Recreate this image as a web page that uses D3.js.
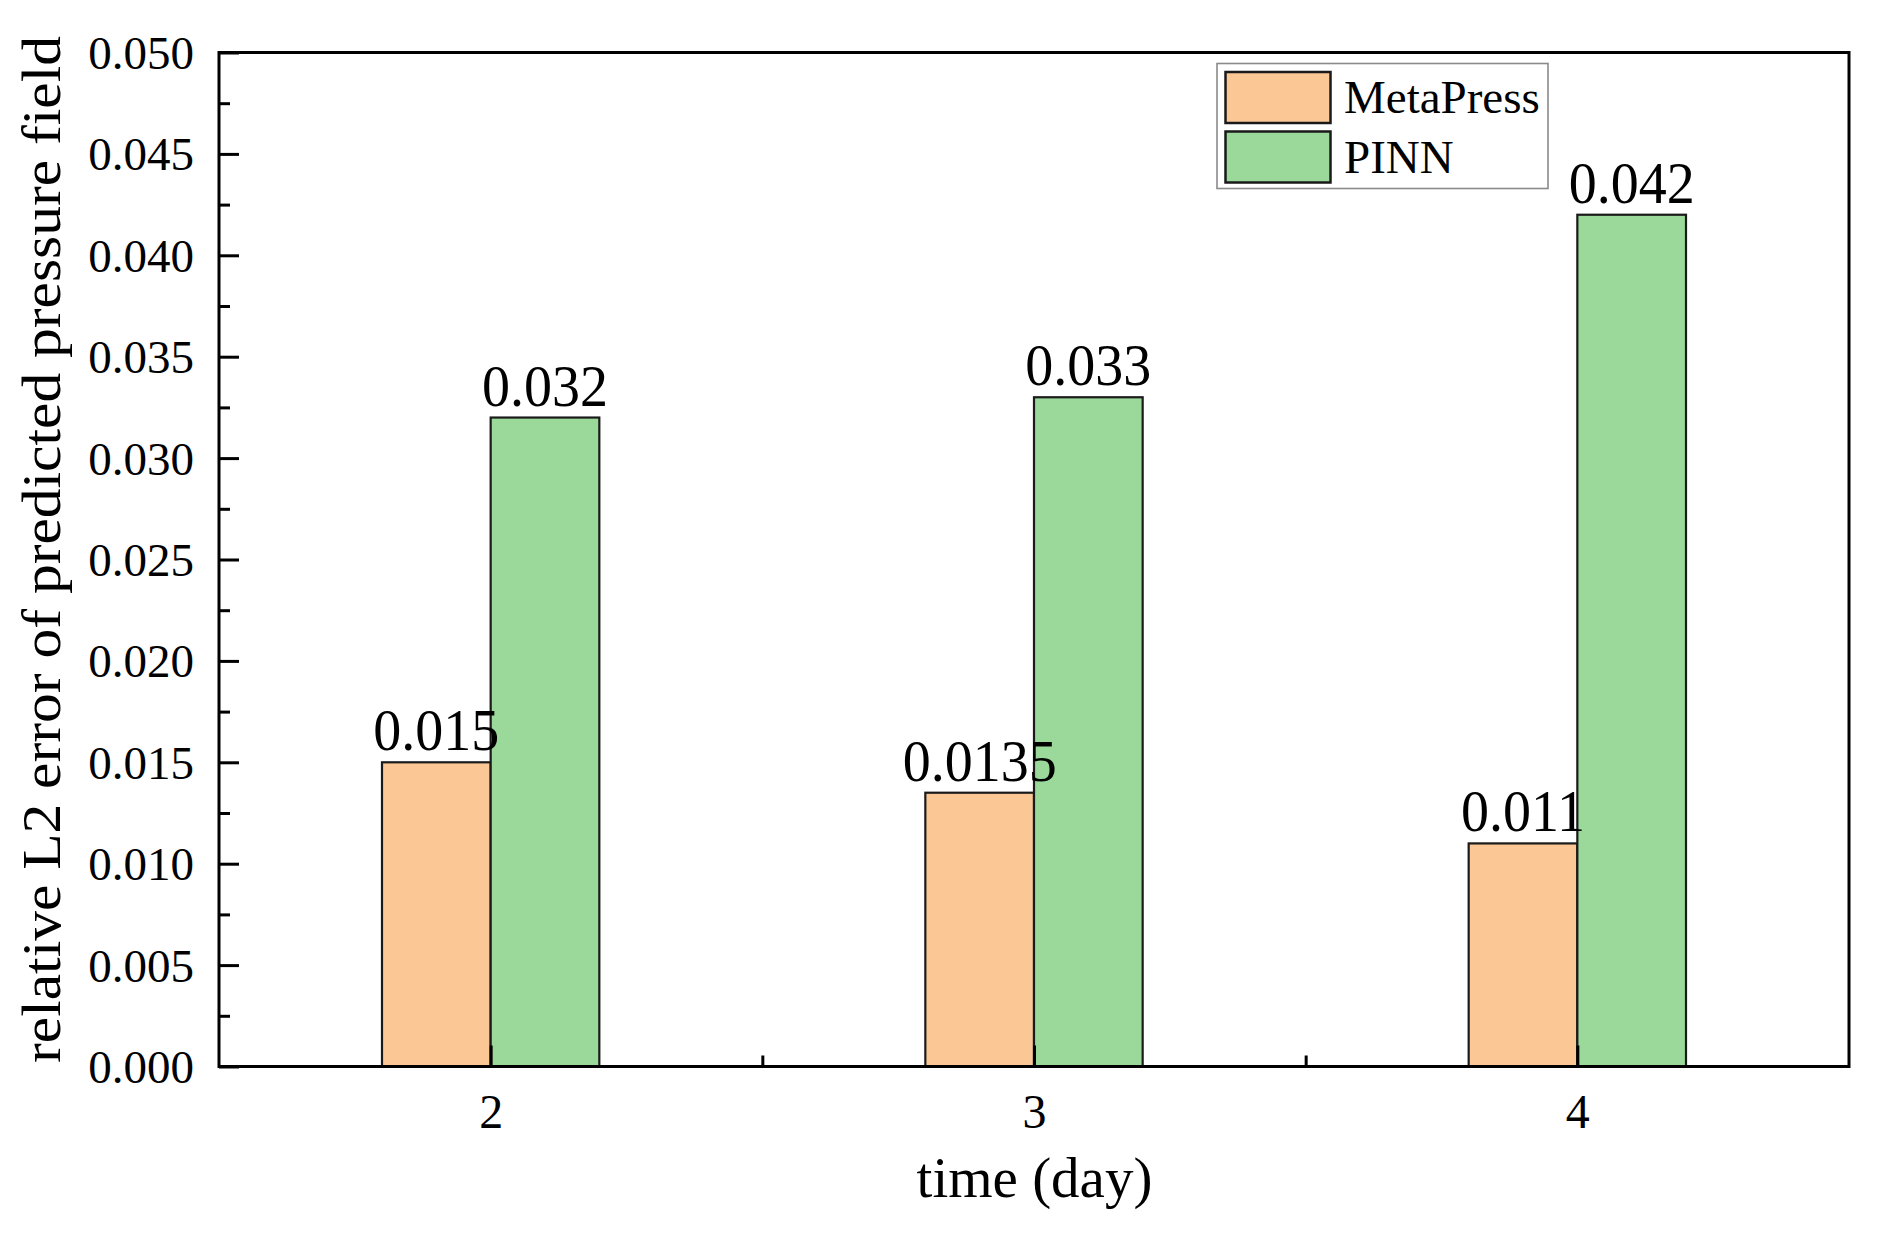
<!DOCTYPE html>
<html>
<head>
<meta charset="utf-8">
<script src="https://cdn.jsdelivr.net/npm/d3@7"></script>
<style>
  html, body { margin: 0; padding: 0; background: #fff; }
  svg { display: block; }
  text { font-family: "Liberation Serif", "Times New Roman", serif; fill: #000; }
</style>
</head>
<body>
<svg id="chart" width="1877" height="1233"></svg>
<script>
// ---- data ----
const categories = [2, 3, 4];
const seriesNames = ["MetaPress", "PINN"];
const metaPressValues = [0.015, 0.0135, 0.011];
const pinnValues = [0.032, 0.033, 0.042];
const metaPressLabels = ["0.015", "0.0135", "0.011"];
const pinnLabels = ["0.032", "0.033", "0.042"];
const yMajorTicks = [0, 0.005, 0.01, 0.015, 0.02, 0.025, 0.03, 0.035, 0.04, 0.045, 0.05];
const yTickLabels = ["0.000", "0.005", "0.010", "0.015", "0.020", "0.025", "0.030", "0.035", "0.040", "0.045", "0.050"];
const yMinorTicks = [0.0025, 0.0075, 0.0125, 0.0175, 0.0225, 0.0275, 0.0325, 0.0375, 0.0425, 0.0475];
const xTickLabels = ["2", "3", "4"];
const xMinorTicks = [2.5, 3.5];
const xTitle = "time (day)";
const yTitle = "relative L2 error of predicted pressure field";

// ---- layout ----
const L = 219, R = 1849, T = 52.5, B = 1066.5;
const barW = 0.2; // in x units
const colors = { MetaPress: "#FAC795", PINN: "#9BD99A" };

const svg = d3.select("#chart");
const x = d3.scaleLinear().domain([1.5, 4.5]).range([L, R]);
const y = d3.scaleLinear().domain([0, 0.05]).range([B, T]);

const series = [
  { name: "MetaPress", values: metaPressValues, labels: metaPressLabels, offset: -barW },
  { name: "PINN", values: pinnValues, labels: pinnLabels, offset: 0 }
];

// bars
series.forEach(s => {
  svg.append("g").selectAll("rect")
    .data(categories.map((c, i) => ({ c, v: s.values[i] })))
    .join("rect")
    .attr("x", d => x(d.c + s.offset))
    .attr("width", d => x(d.c + s.offset + barW) - x(d.c + s.offset))
    .attr("y", d => y(d.v))
    .attr("height", d => y(0) - y(d.v))
    .attr("fill", colors[s.name])
    .attr("stroke", "#1a1a1a")
    .attr("stroke-width", 2.2);
});

// y axis major
const yAxis = svg.append("g").attr("transform", `translate(${L},0)`)
  .call(d3.axisLeft(y).tickValues(yMajorTicks).tickSize(-20).tickPadding(25)
    .tickFormat((d, i) => yTickLabels[i]));
// y axis minor
const yAxisMinor = svg.append("g").attr("transform", `translate(${L},0)`)
  .call(d3.axisLeft(y).tickValues(yMinorTicks).tickSize(-11).tickFormat(""));
// x axis major
const xAxis = svg.append("g").attr("transform", `translate(0,${B})`)
  .call(d3.axisBottom(x).tickValues(categories).tickSize(-21).tickPadding(27)
    .tickFormat((d, i) => xTickLabels[i]));
// x axis minor
const xAxisMinor = svg.append("g").attr("transform", `translate(0,${B})`)
  .call(d3.axisBottom(x).tickValues(xMinorTicks).tickSize(-11).tickFormat(""));

[yAxis, yAxisMinor, xAxis, xAxisMinor].forEach(g => {
  g.select(".domain").remove();
  g.selectAll(".tick line").attr("stroke", "#000").attr("stroke-width", 3);
  g.selectAll(".tick text")
    .style("font-family", "'Liberation Serif', 'Times New Roman', serif")
    .attr("font-size", 48).attr("fill", "#000");
});
yAxis.selectAll(".tick text").attr("font-size", 47).attr("dy", "0.34em");

// frame
svg.append("rect")
  .attr("x", L).attr("y", T).attr("width", R - L).attr("height", B - T)
  .attr("fill", "none").attr("stroke", "#000").attr("stroke-width", 3);

// bar value labels
series.forEach(s => {
  svg.append("g").selectAll("text")
    .data(categories.map((c, i) => ({ c, v: s.values[i], t: s.labels[i] })))
    .join("text")
    .attr("transform", d => `translate(${x(d.c + s.offset + barW / 2)},${y(d.v) - 12}) scale(1,1.06)`)
    .attr("text-anchor", "middle")
    .attr("font-size", 56)
    .text(d => d.t);
});

// axis titles
svg.append("text")
  .attr("x", (L + R) / 2 + 0.5)
  .attr("y", 1197)
  .attr("text-anchor", "middle")
  .attr("font-size", 57)
  .text(xTitle);

svg.append("text")
  .attr("transform", "translate(60,549.5) rotate(-90)")
  .attr("text-anchor", "middle")
  .attr("font-size", 54)
  .attr("textLength", 1027)
  .attr("lengthAdjust", "spacingAndGlyphs")
  .text(yTitle);

// legend
const lg = svg.append("g");
lg.append("rect")
  .attr("x", 1217).attr("y", 63.5).attr("width", 331).attr("height", 125)
  .attr("fill", "#fff").attr("stroke", "#8a8a8a").attr("stroke-width", 1.6);
seriesNames.forEach((n, i) => {
  lg.append("rect")
    .attr("x", 1225.5).attr("y", 72 + i * 59.5).attr("width", 105).attr("height", 51)
    .attr("fill", colors[n]).attr("stroke", "#1a1a1a").attr("stroke-width", 2.5);
  lg.append("text")
    .attr("x", 1344).attr("y", 113 + i * 59.5)
    .attr("font-size", 47)
    .text(n);
});
</script>
</body>
</html>
